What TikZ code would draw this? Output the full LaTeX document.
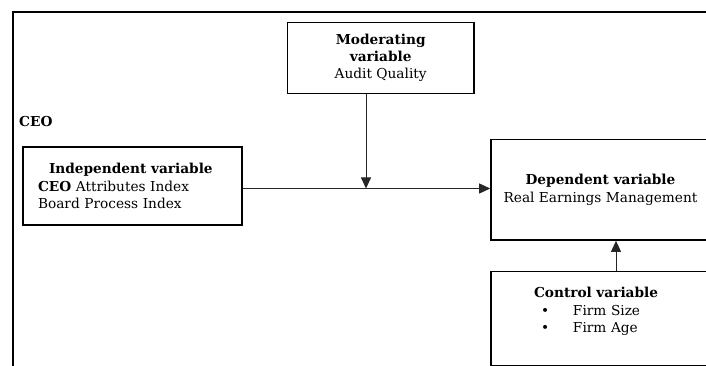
\documentclass[tikz,border=0pt]{standalone}
\usepackage{fontspec}
\setmainfont{DejaVu Serif}
\usetikzlibrary{arrows.meta}
\tikzset{
  box/.style={draw=black, line width=1.6pt, rectangle, inner sep=0pt, font=\fontsize{13.7}{17.3}\selectfont},
  conn/.style={draw=black!85, line width=0.9pt, -{Triangle[length=11pt,width=10pt]}},
  frameline/.style={draw=black, line width=1.8pt},
}
\begin{document}
\begin{tikzpicture}[x=1pt,y=-1pt]
\useasboundingbox (0,0) rectangle (706,366);
\clip (0,0) rectangle (706,366);
\draw[frameline] (13,367) -- (13,12) -- (707,12);
\node[anchor=west, inner sep=0pt, font=\fontsize{13.7}{17}\selectfont\bfseries] (ceo) at (19,122) {CEO};
\node[box, minimum width=219.3pt, minimum height=78.3pt, text width=188.8pt, align=left] (ind) at (132.4,186)
  {\hspace*{11pt}\textbf{Independent variable}\\\textbf{CEO} Attributes Index\\Board Process Index};
\node[box, minimum width=186.7pt, minimum height=71.3pt, align=center] (mod) at (380.7,58)
  {\textbf{Moderating}\\\textbf{variable}\\Audit Quality};
\node[box, minimum width=219pt, minimum height=100.7pt, align=center] (dep) at (600.5,189.7)
  {\textbf{Dependent variable}\\Real Earnings Management};
\node[box, minimum width=219pt, minimum height=94pt, text width=133pt, align=left] (ctrl) at (600.5,318.6)
  {\textbf{Control variable}\\\hspace*{7pt}\makebox[32pt][l]{•}Firm Size\\\hspace*{7pt}\makebox[32pt][l]{•}Firm Age\\\mbox{}};
\coordinate (j) at (366,188.5);
\coordinate (k) at (616,250);
\draw[conn] (ind.east |- j) -- (dep.west |- j);
\draw[conn] (mod.south -| j) -- (j);
\draw[conn] (ctrl.north -| k) -- (dep.south -| k);
\end{tikzpicture}
\end{document}
